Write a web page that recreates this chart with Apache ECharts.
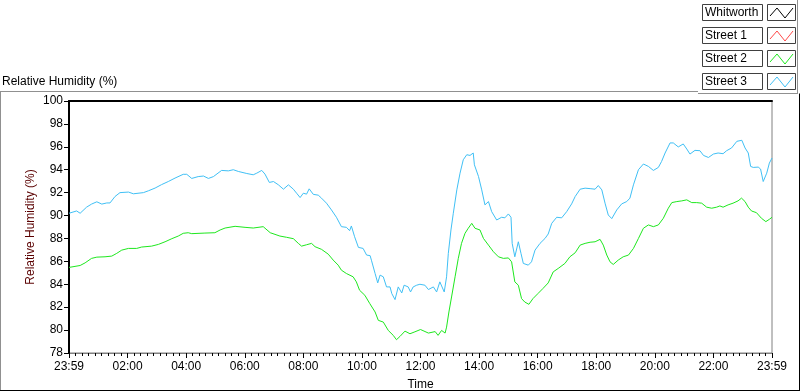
<!DOCTYPE html>
<html>
<head>
<meta charset="utf-8">
<script src="https://cdn.jsdelivr.net/npm/echarts@6/dist/echarts.min.js"></script>
<style>
  html, body { margin: 0; padding: 0; background: #fff; }
  #chart { width: 800px; height: 392px; }
</style>
</head>
<body>
<div id="chart"></div>
<script>
var FONT = 'Liberation Sans'

// hours after 23:59 and humidity readings
var street3Hours = [0, 0.26, 0.38, 0.6, 0.77, 0.95, 1.12, 1.29, 1.4, 1.57, 1.74, 2.03, 2.2, 2.54, 2.71, 2.94, 3.16, 3.39, 3.62, 3.9, 4.02, 4.19, 4.41, 4.59, 4.76, 4.93, 5.21, 5.44, 5.61, 5.78, 6.07, 6.29, 6.41, 6.58, 6.69, 6.84, 6.98, 7.15, 7.32, 7.49, 7.66, 7.77, 7.89, 8.0, 8.11, 8.2, 8.34, 8.51, 8.62, 8.79, 8.96, 9.13, 9.3, 9.47, 9.58, 9.64, 9.75, 9.88, 10.04, 10.16, 10.28, 10.33, 10.45, 10.54, 10.62, 10.73, 10.84, 10.96, 11.02, 11.13, 11.24, 11.36, 11.44, 11.58, 11.66, 11.75, 11.87, 11.98, 12.15, 12.27, 12.44, 12.55, 12.66, 12.81, 12.89, 12.95, 13.04, 13.12, 13.24, 13.35, 13.46, 13.58, 13.69, 13.8, 13.84, 13.98, 14.09, 14.2, 14.32, 14.43, 14.6, 14.77, 14.88, 15.0, 15.09, 15.13, 15.22, 15.34, 15.43, 15.51, 15.68, 15.79, 15.91, 16.08, 16.25, 16.36, 16.48, 16.65, 16.82, 16.99, 17.16, 17.28, 17.45, 17.62, 17.79, 17.96, 18.07, 18.19, 18.3, 18.41, 18.53, 18.7, 18.87, 19.04, 19.15, 19.27, 19.44, 19.61, 19.78, 19.95, 20.12, 20.23, 20.35, 20.52, 20.63, 20.8, 20.97, 21.09, 21.2, 21.37, 21.54, 21.66, 21.83, 22.0, 22.16, 22.33, 22.45, 22.62, 22.8, 22.97, 23.08, 23.19, 23.27, 23.36, 23.53, 23.61, 23.7, 23.82, 23.91, 24.0]
var street3Values = [90.2, 90.4, 90.2, 90.73, 91.0, 91.2, 91.0, 91.1, 91.1, 91.66, 92.0, 92.05, 91.9, 92.0, 92.16, 92.4, 92.7, 92.97, 93.27, 93.6, 93.6, 93.24, 93.4, 93.45, 93.24, 93.4, 93.94, 93.9, 94.0, 93.85, 93.67, 93.56, 93.7, 93.94, 93.62, 92.89, 92.97, 92.68, 92.3, 92.68, 92.3, 91.95, 91.57, 91.95, 91.87, 92.33, 91.85, 91.78, 91.52, 91.08, 90.49, 89.85, 89.03, 88.97, 88.68, 89.09, 88.15, 87.22, 87.13, 86.55, 86.5, 86.05, 84.94, 84.12, 84.8, 84.65, 83.77, 83.77, 83.19, 82.66, 83.77, 83.24, 83.92, 83.77, 83.33, 83.77, 83.92, 84.0, 83.92, 83.54, 83.77, 83.33, 84.21, 83.33, 84.65, 86.7, 88.74, 90.2, 92.24, 93.7, 94.87, 95.31, 95.25, 95.46, 94.43, 93.41, 92.24, 90.93, 91.22, 90.34, 89.61, 89.85, 89.8, 90.14, 89.85, 87.57, 86.4, 87.71, 86.7, 85.82, 85.67, 85.96, 86.98, 87.57, 88.0, 88.39, 89.32, 89.85, 89.8, 90.34, 91.02, 91.66, 92.3, 92.39, 92.35, 92.3, 92.62, 92.24, 91.08, 90.05, 89.73, 90.49, 91.02, 91.22, 91.52, 92.68, 94.0, 94.5, 94.29, 93.94, 94.2, 94.72, 95.46, 96.34, 96.34, 95.99, 96.25, 95.81, 95.37, 95.69, 95.66, 95.25, 95.07, 95.37, 95.46, 95.4, 95.66, 95.9, 96.48, 96.57, 95.9, 95.46, 94.29, 94.2, 94.23, 94.06, 92.97, 93.7, 94.58, 95.02]

var street2Hours = [0, 0.38, 0.55, 0.77, 0.95, 1.23, 1.46, 1.63, 1.8, 2.03, 2.31, 2.48, 2.82, 3.05, 3.28, 3.51, 3.73, 3.9, 4.07, 4.19, 4.64, 4.98, 5.16, 5.33, 5.67, 6.01, 6.29, 6.63, 6.87, 7.2, 7.43, 7.66, 7.83, 7.94, 8.11, 8.28, 8.4, 8.62, 8.85, 9.02, 9.19, 9.3, 9.47, 9.7, 9.81, 9.92, 10.1, 10.27, 10.45, 10.56, 10.73, 10.9, 11.07, 11.18, 11.3, 11.47, 11.64, 11.81, 12.0, 12.27, 12.5, 12.6, 12.72, 12.84, 12.89, 12.97, 13.06, 13.18, 13.29, 13.4, 13.52, 13.63, 13.75, 13.86, 14.03, 14.15, 14.32, 14.49, 14.66, 14.83, 15.0, 15.11, 15.22, 15.34, 15.45, 15.56, 15.7, 15.84, 16.01, 16.18, 16.36, 16.53, 16.7, 16.93, 17.1, 17.28, 17.45, 17.62, 17.79, 17.96, 18.13, 18.24, 18.36, 18.47, 18.58, 18.75, 18.92, 19.1, 19.27, 19.44, 19.61, 19.78, 19.95, 20.12, 20.29, 20.46, 20.58, 20.75, 20.92, 21.09, 21.26, 21.43, 21.6, 21.77, 21.94, 22.11, 22.22, 22.33, 22.5, 22.67, 22.84, 22.96, 23.08, 23.19, 23.3, 23.47, 23.64, 23.79, 23.91, 24.0]
var street2Values = [85.47, 85.64, 85.87, 86.26, 86.37, 86.4, 86.46, 86.7, 86.98, 87.13, 87.13, 87.25, 87.33, 87.48, 87.71, 87.98, 88.21, 88.45, 88.5, 88.42, 88.47, 88.5, 88.74, 88.91, 89.06, 88.97, 88.91, 89.03, 88.5, 88.21, 88.1, 87.98, 87.57, 87.33, 87.45, 87.57, 87.28, 87.05, 86.63, 86.11, 85.67, 85.23, 84.94, 84.65, 84.21, 83.48, 83.04, 82.31, 81.58, 80.85, 80.7, 79.97, 79.54, 79.16, 79.45, 79.91, 79.68, 79.85, 80.05, 79.74, 79.87, 79.54, 79.97, 79.74, 80.26, 81.58, 82.89, 84.65, 86.26, 87.57, 88.45, 88.89, 89.32, 88.89, 88.74, 88.0, 87.42, 86.84, 86.4, 86.26, 86.3, 85.96, 84.21, 83.92, 82.75, 82.45, 82.25, 82.75, 83.19, 83.63, 84.12, 85.08, 85.38, 85.82, 86.4, 86.75, 87.42, 87.57, 87.67, 87.71, 87.92, 87.42, 86.55, 85.96, 85.73, 86.11, 86.4, 86.55, 87.13, 88.0, 88.89, 89.18, 89.03, 89.18, 89.76, 90.64, 91.13, 91.22, 91.28, 91.37, 91.13, 91.13, 91.08, 90.73, 90.64, 90.73, 90.84, 90.73, 90.93, 91.08, 91.28, 91.52, 91.22, 90.73, 90.4, 90.25, 89.76, 89.47, 89.67, 89.85]

var plotNames = ['Whitworth', 'Street 1', 'Street 2', 'Street 3']
var plotColors = ['#000000', '#ff4a4a', '#1ee81e', '#40c0f5']

var pairs = function (hours, values) {
  var res = []
  for (var i = 0; i < hours.length; i++) {
    res.push([hours[i], values[i]])
  }
  return res
}

var timeLabel = function (v) {
  if (v === 0 || v === 24) return '23:59'
  return (v < 10 ? '0' : '') + v + ':00'
}

// plot legend drawn LabVIEW style: name box + line sample box
var legendItems = []
for (var i = 0; i < plotNames.length; i++) {
  var rowTop = 4 + i * 23
  legendItems.push(
    { type: 'rect', shape: { x: 702.5, y: rowTop + 0.5, width: 60, height: 16 }, style: { fill: '#fff', stroke: '#404040', lineWidth: 1 } },
    { type: 'text', x: 705, y: rowTop + 3, style: { text: plotNames[i], fill: '#000', font: '12px ' + FONT } },
    { type: 'rect', shape: { x: 767.5, y: rowTop + 0.5, width: 28, height: 16 }, style: { fill: '#fff', stroke: '#404040', lineWidth: 1 } },
    { type: 'polyline', shape: { points: [[770, rowTop + 12], [777, rowTop + 4], [785, rowTop + 14], [793, rowTop + 4]] }, style: { stroke: plotColors[i], lineWidth: 1, fill: null } }
  )
}

var frame = [
  { type: 'line', shape: { x1: 0, y1: 91.5, x2: 698, y2: 91.5 }, style: { stroke: '#909090', lineWidth: 1 } },
  { type: 'line', shape: { x1: 698, y1: 93.5, x2: 798, y2: 93.5 }, style: { stroke: '#909090', lineWidth: 1 } },
  { type: 'line', shape: { x1: 797.5, y1: 0, x2: 797.5, y2: 93.5 }, style: { stroke: '#909090', lineWidth: 1 } },
  { type: 'line', shape: { x1: 0.5, y1: 91.5, x2: 0.5, y2: 391 }, style: { stroke: '#909090', lineWidth: 1 } },
  { type: 'line', shape: { x1: 0, y1: 390.5, x2: 800, y2: 390.5 }, style: { stroke: '#000', lineWidth: 1 } },
  { type: 'line', shape: { x1: 799.5, y1: 93.5, x2: 799.5, y2: 391 }, style: { stroke: '#000', lineWidth: 1 } }
]

var myChart = echarts.init(document.getElementById('chart'))

var option = {
  animation: false,
  backgroundColor: '#fff',
  textStyle: { fontFamily: FONT },
  title: {
    text: 'Relative Humidity (%)',
    left: 2,
    top: 76,
    padding: 0,
    textStyle: { fontFamily: FONT, fontSize: 12, fontWeight: 'normal', color: '#000' }
  },
  grid: {
    left: 69,
    right: 28,
    top: 101,
    bottom: 39,
    outerBoundsMode: 'none',
    show: true,
    borderColor: '#808080',
    borderWidth: 1
  },
  xAxis: [
    {
      type: 'value',
      min: 0,
      max: 24,
      interval: 2,
      name: 'Time',
      nameLocation: 'middle',
      nameGap: 26,
      nameTextStyle: { color: '#000', fontSize: 12, fontFamily: FONT },
      axisLine: { show: true, lineStyle: { color: '#808080', width: 1 } },
      axisTick: { show: true, length: 5, lineStyle: { color: '#000' } },
      minorTick: { show: true, splitNumber: 9, length: 3, lineStyle: { color: '#000' } },
      axisLabel: { color: '#000', fontSize: 12, margin: 8, formatter: timeLabel },
      splitLine: { show: false }
    },
    {
      type: 'value',
      position: 'top',
      min: 0,
      max: 24,
      axisLine: { show: true, lineStyle: { color: '#000', width: 2 } },
      axisTick: { show: false },
      axisLabel: { show: false },
      splitLine: { show: false }
    }
  ],
  yAxis: {
    type: 'value',
    min: 78,
    max: 100,
    interval: 2,
    name: 'Relative Humidity (%)',
    nameLocation: 'middle',
    nameGap: 32,
    nameMoveOverlap: false,
    nameTextStyle: { color: '#5a0000', fontSize: 12, fontFamily: FONT },
    axisLine: { show: true, lineStyle: { color: '#000', width: 2 } },
    axisTick: { show: true, length: 5, lineStyle: { color: '#000' } },
    axisLabel: { color: '#000', fontSize: 12, margin: 6 },
    splitLine: { show: false }
  },
  series: [
    { name: 'Whitworth', type: 'line', data: [], showSymbol: false, lineStyle: { color: plotColors[0], width: 1 } },
    { name: 'Street 1', type: 'line', data: [], showSymbol: false, lineStyle: { color: plotColors[1], width: 1 } },
    { name: 'Street 2', type: 'line', data: pairs(street2Hours, street2Values), showSymbol: false, lineStyle: { color: plotColors[2], width: 1 } },
    { name: 'Street 3', type: 'line', data: pairs(street3Hours, street3Values), showSymbol: false, lineStyle: { color: plotColors[3], width: 1 } }
  ],
  graphic: frame.concat(legendItems)
}

myChart.setOption(option)
</script>
</body>
</html>
